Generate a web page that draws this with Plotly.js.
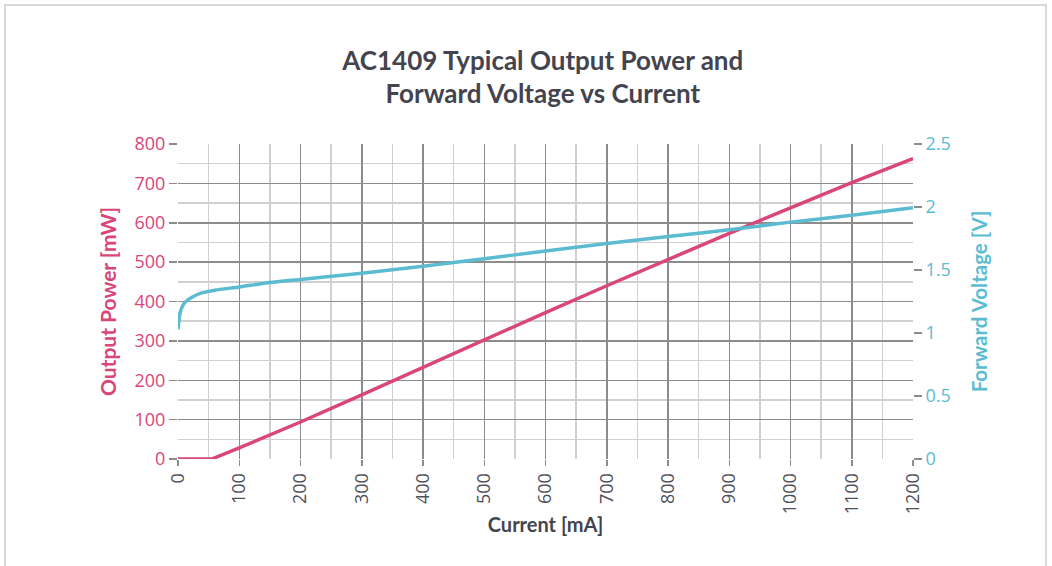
<!DOCTYPE html>
<html>
<head>
<meta charset="utf-8">
<script src="https://cdn.plot.ly/plotly-3.0.1.min.js"></script>
<style>
html,body{margin:0;padding:0;background:#fff;}
#chart{width:1052px;height:566px;}
</style>
</head>
<body>
<div id="chart"></div>
<script>
// Output power vs current
const powerCurrent = [0, 50, 55, 100, 200, 300, 400, 500, 600, 700, 800, 900, 1000, 1100, 1200];
const powerValues  = [0, 0, 0, 28, 94, 163, 233, 303, 372, 440, 507, 573, 638, 702, 763];

// Forward voltage vs current
const voltCurrent = [0, 2, 4, 8, 15, 25, 40, 60, 100, 150, 200, 300, 400, 500, 600, 700, 800, 900, 1000, 1100, 1200];
const voltValues  = [1.03, 1.12, 1.17, 1.22, 1.26, 1.29, 1.32, 1.34, 1.365, 1.40, 1.425, 1.475, 1.53, 1.59, 1.65, 1.71, 1.765, 1.82, 1.88, 1.935, 1.995];

const titleText = "AC1409 Typical Output Power and<br>Forward Voltage vs Current";
const xTitle = "Current [mA]";
const y1Title = "Output Power [mW]";
const y2Title = "Forward Voltage [V]";

const pink = "#d9467a";
const teal = "#5bbcd1";
const dark = "#44444f";
const major = "#8c8c8c";
const minorC = "#d0d0d0";

const traces = [
  {x: powerCurrent, y: powerValues, type: "scatter", mode: "lines",
   line: {color: pink, width: 3.5}, yaxis: "y", hoverinfo: "skip"},
  {x: voltCurrent, y: voltValues, type: "scatter", mode: "lines",
   line: {color: teal, width: 3.5, shape: "spline", smoothing: 0.6}, yaxis: "y2", hoverinfo: "skip"}
];

const L = 178, R = 913, T = 144, B = 459;
const px = v => (v - L) / (R - L);
const py = v => (B - v) / (B - T);

const layout = {
  width: 1052, height: 566,
  margin: {l: L, r: 1052 - R, t: T, b: 566 - B},
  paper_bgcolor: "#fff", plot_bgcolor: "#fff",
  showlegend: false,
  font: {family: "'Open Sans', sans-serif"},
  title: {text: titleText, x: 0.516, xanchor: "center", y: 0.877, yanchor: "middle",
          font: {family: "Lato, sans-serif", size: 26, color: dark, weight: "bold"}},
  xaxis: {
    range: [0, 1200], dtick: 100, tick0: 0,
    showgrid: true, gridcolor: major, gridwidth: 1.5,
    minor: {dtick: 50, showgrid: true, gridcolor: minorC, gridwidth: 1.5},
    zeroline: false, showline: false,
    ticks: "outside", ticklen: 6, tickcolor: major, tickwidth: 1.5,
    tickangle: -90,
    tickfont: {size: 18, color: "#50505a", family: "'Open Sans', sans-serif"},
    title: {text: xTitle, standoff: 4, font: {family: "Lato, sans-serif", size: 20, color: dark, weight: "bold"}}
  },
  yaxis: {
    range: [0, 800], dtick: 100,
    showgrid: true, gridcolor: major, gridwidth: 1.5,
    minor: {dtick: 50, showgrid: true, gridcolor: minorC, gridwidth: 1.5},
    zeroline: false, showline: false,
    ticks: "outside", ticklen: 8, tickcolor: major, tickwidth: 1.5,
    tickfont: {size: 18, color: pink, family: "'Open Sans', sans-serif"},
    title: {text: y1Title, standoff: 12, font: {family: "Lato, sans-serif", size: 21, color: pink, weight: "bold"}}
  },
  yaxis2: {
    overlaying: "y", side: "right",
    range: [0, 2.5], dtick: 0.5,
    showgrid: false, zeroline: false, showline: false,
    ticks: "outside", ticklen: 8, tickcolor: major, tickwidth: 1.5,
    tickfont: {size: 18, color: teal, family: "'Open Sans', sans-serif"},
    title: {text: y2Title, standoff: 22, font: {family: "Lato, sans-serif", size: 20.5, color: teal, weight: "bold"}}
  },
  shapes: [
    {type: "rect", xref: "paper", yref: "paper",
     x0: px(5), x1: px(1046), y0: py(620), y1: py(5),
     line: {color: "#d9d9d9", width: 2}, fillcolor: "rgba(0,0,0,0)", layer: "below"}
  ]
};

Plotly.newPlot("chart", traces, layout, {staticPlot: true, displayModeBar: false});
</script>
</body>
</html>
